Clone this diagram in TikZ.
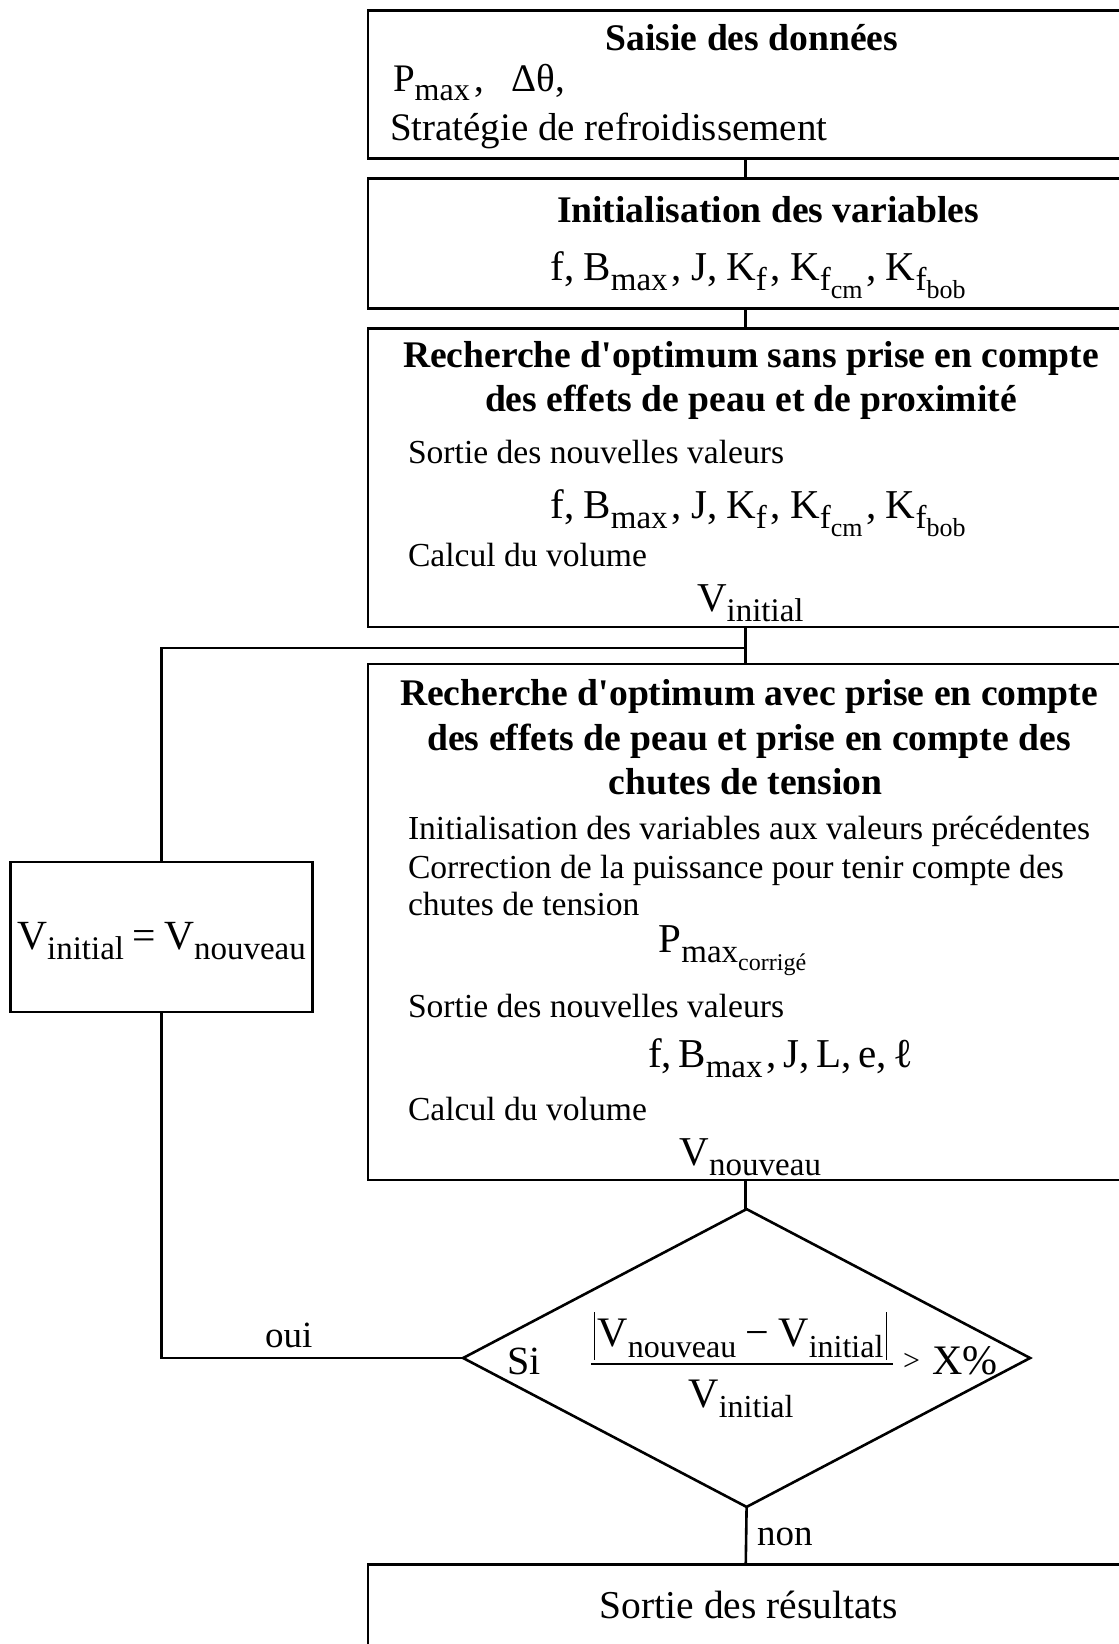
\documentclass[tikz,border=0pt]{standalone}
\usepackage{fontspec}
\setmainfont{Liberation Serif}
\newfontfamily\apofont{Liberation Serif}
\usetikzlibrary{shapes.geometric}
% lowered subscript: [size]{text}
\newcommand\dn[2][33]{\raisebox{-0.25em}{\fontsize{#1}{#1}\selectfont #2}}
\newcommand\fsz[1]{\fontsize{#1}{#1}\selectfont}
\newcommand\apo{{\apofont\bfseries'}}
\newcommand\cm{\hspace{0.22em}}
\newcommand\pc{\hspace{0.1em}}
\newcommand\ts{\hspace{0.16em}}
\begin{document}
\begin{tikzpicture}[x=1pt,y=-1pt,line width=2.6pt,
  every node/.style={inner sep=0pt,outer sep=0pt},
  boxst/.style={draw,rectangle,minimum width=755.5pt},
  ttl/.style={anchor=base,font=\fsz{37.6}\bfseries},
  body/.style={anchor=base west,font=\fsz{33.6}},
  frm/.style={anchor=base west,font=\fsz{41}},
  lbl/.style={anchor=base west,font=\fsz{37}}]
\useasboundingbox (0,0) rectangle (1119,1644);
\clip (0,0) rectangle (1119,1644);

% boxes
\node[boxst,minimum height=148pt] (b1) at (745.75,84.5) {};
\node[boxst,minimum height=130pt] (b2) at (745.75,243.3) {};
\node[boxst,minimum height=298.9pt] (b3) at (745.75,477.65) {};
\node[boxst,minimum height=516pt] (b4) at (745.75,921.8) {};
\node[boxst,minimum height=135pt] (b5) at (745.75,1632.2) {};
\node[draw,rectangle,minimum width=302pt,minimum height=150pt] (lb) at (161.5,937) {};
\node[draw,diamond,minimum width=567pt,minimum height=297.8pt] (dm) at (746.6,1358) {};

% connectors
\draw (b1.south) -- (b2.north);
\draw (b2.south) -- (b3.north);
\draw (b3.south) -- (b4.north);
\draw (b4.south) -- (b4.south |- dm.north) -- (dm.north);
\draw (dm.south) -- (b5.north);
\coordinate (jn) at (745.75,648.1);
\draw (jn) -- (jn -| lb.north) -- (lb.north);
\draw (lb.south) |- (dm.west);

% box 1
\node[ttl] (t1) at (752,50.3) {Saisie des données};
\node[anchor=base west,font=\fsz{39}] (p1) at (393,91) {P\dn[32]{max}\hspace{0.12em},\hspace{0.7em}Δθ,};
\node[anchor=base west,font=\fsz{39}] (s1) at (390,140.5) {Stratégie de refroidissement};

% box 2
\node[ttl] (t2) at (768,222) {Initialisation des variables};
\node[frm] (f2) at (550.6,280) {f,\cm B\dn{max}\pc,\cm J,\cm K\dn{f}\pc,\cm K\dn{f\dn[26]{cm}}\pc,\cm K\dn{f\dn[26]{bob}}};

% box 3
\node[ttl] (t3a) at (751,367) {Recherche d\apo optimum sans prise en compte};
\node[ttl] (t3b) at (751,411) {des effets de peau et de proximité};
\node[body] (s3) at (408,463.5) {Sortie des nouvelles valeurs};
\node[frm] (f3) at (550.6,518) {f,\cm B\dn{max}\pc,\cm J,\cm K\dn{f}\pc,\cm K\dn{f\dn[26]{cm}}\pc,\cm K\dn{f\dn[26]{bob}}};
\node[body] (c3) at (408,566) {Calcul du volume};
\node[frm] (v3) at (697,611) {V\dn{initial}};

% box 4
\node[ttl] (t4a) at (749,705) {Recherche d\apo optimum avec prise en compte};
\node[ttl] (t4b) at (749,750) {des effets de peau et prise en compte des};
\node[ttl] (t4c) at (745.6,794) {chutes de tension};
\node[body] (i4) at (408,839) {Initialisation des variables aux valeurs précédentes};
\node[body] (k4a) at (408,878) {Correction de la puissance pour tenir compte des};
\node[body] (k4b) at (408,915.5) {chutes de tension};
\node[frm] (p4) at (658.6,952) {P\dn{max\dn[24]{corrigé}}};
\node[body] (s4) at (408,1017) {Sortie des nouvelles valeurs};
\node[frm] (f4) at (648,1067.5) {f,\ts B\dn{max}\pc,\ts J,\ts L,\ts e,\ts ℓ};
\node[body] (c4) at (408,1120) {Calcul du volume};
\node[frm] (v4) at (679.6,1165) {V\dn{nouveau}};

% left box
\node[anchor=base,font=\fsz{41.5}] (eq) at (lb.center |- 0,949) {V\dn[33]{initial}\hspace{0.2em}=\hspace{0.2em}V\dn[33]{nouveau}};

% diamond
\node[anchor=base west,font=\fsz{40}] (si) at (507,1374) {Si};
\node[anchor=base,font=\fsz{42}] (num) at (740.5,1346.7) {\vrule width 1.8pt height 34.5pt depth 13pt\hspace{0.05em}V\dn[32]{nouveau}\hspace{0.22em}−\hspace{0.22em}V\dn[32]{initial}\hspace{0.05em}\vrule width 1.8pt height 34.5pt depth 13pt};
\coordinate (fbl) at (591,1364);
\coordinate (fbr) at (892.6,1364);
\draw[line width=2pt] (fbl) -- (fbr);
\node[anchor=base,font=\fsz{42}] (den) at (741,1407) {V\dn[32]{initial}};
\node[anchor=base west,font=\fsz{42}] (gt) at (903,1374) {\raisebox{4pt}{\fsz{30}>}\hspace{0.3em}X\%};

% labels
\node[lbl] (oui) at (265,1347.5) {oui};
\node[lbl] (non) at (757,1545) {non};

% box 5
\node[anchor=base,font=\fsz{39.5}] (t5) at (749,1618) {Sortie des résultats};
\end{tikzpicture}
\end{document}
